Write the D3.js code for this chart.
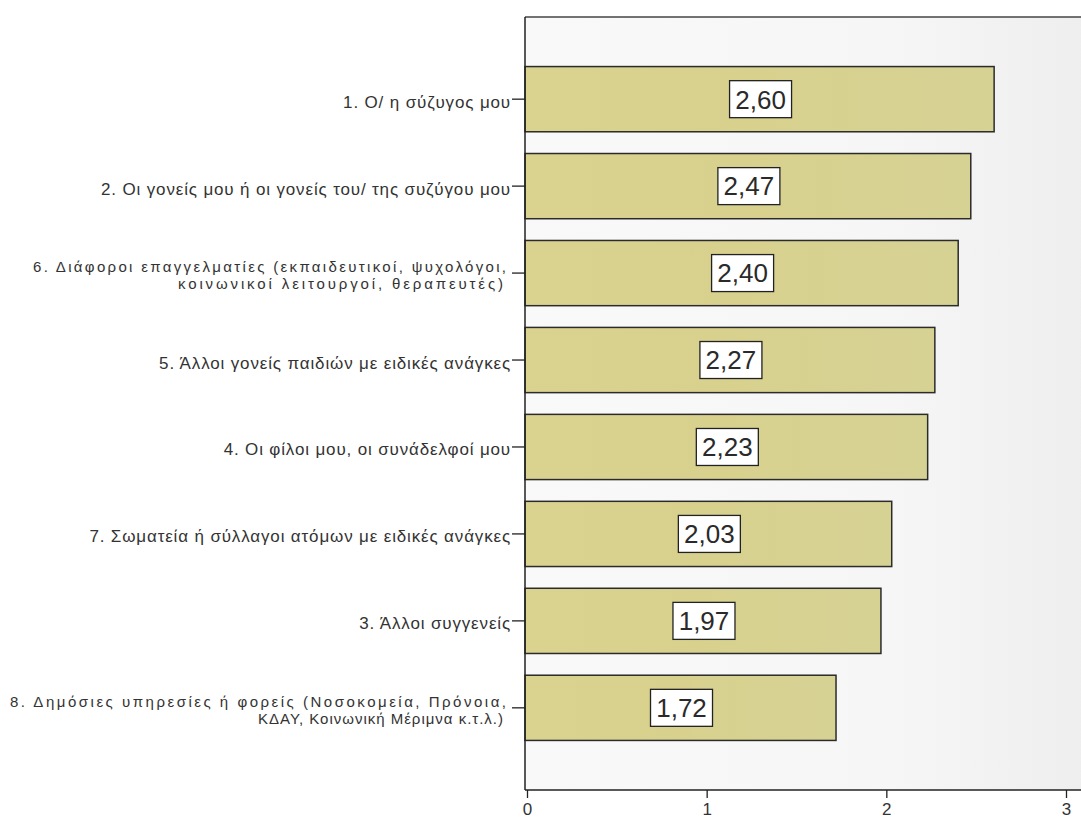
<!DOCTYPE html>
<html>
<head>
<meta charset="utf-8">
<script src="https://cdn.jsdelivr.net/npm/d3@7"></script>
<style>
  html, body { margin: 0; padding: 0; background: #ffffff; }
  svg { display: block; font-family: "Liberation Sans", Arial, sans-serif; }
</style>
</head>
<body>
<svg id="chart" width="1081" height="821"></svg>
<script>
// Mean scores per source of support (top to bottom)
const categories = [
  ["1. Ο/ η σύζυγος μου"],
  ["2. Οι γονείς μου ή οι γονείς του/ της συζύγου μου"],
  ["6. Διάφοροι επαγγελματίες (εκπαιδευτικοί, ψυχολόγοι,", "κοινωνικοί λειτουργοί, θεραπευτές)"],
  ["5. Άλλοι γονείς παιδιών με ειδικές ανάγκες"],
  ["4. Οι φίλοι μου, οι συνάδελφοί μου"],
  ["7. Σωματεία ή σύλλαγοι ατόμων με ειδικές ανάγκες"],
  ["3. Άλλοι συγγενείς"],
  ["8. Δημόσιες υπηρεσίες ή φορείς (Νοσοκομεία, Πρόνοια,", "ΚΔΑΥ, Κοινωνική Μέριμνα κ.τ.λ.)"]
];
const means = [2.60, 2.47, 2.40, 2.27, 2.23, 2.03, 1.97, 1.72];
const xTicks = [0, 1, 2, 3];

const svg = d3.select("#chart");
const W = 1081, H = 821;
const plot = { left: 525, top: 17, bottom: 790, right: 1090 };

const keys = categories.map((c, i) => i);
const x = d3.scaleLinear().domain([0, 3]).range([527, 1066]);
const y = d3.scaleBand().domain(keys).range([plot.top, plot.bottom])
  .paddingInner(0.25).paddingOuter(0.57);

const fmt = v => d3.format(".2f")(v).replace(".", ",");

// plot background
const defs = svg.append("defs");
const bg = defs.append("linearGradient").attr("id", "bg").attr("x1", 0).attr("x2", 1).attr("y1", 0).attr("y2", 0);
bg.append("stop").attr("offset", "0%").attr("stop-color", "#f9f9f9");
bg.append("stop").attr("offset", "65%").attr("stop-color", "#f6f6f6");
bg.append("stop").attr("offset", "100%").attr("stop-color", "#eeeeee");

const barGrad = defs.append("linearGradient").attr("id", "barfill").attr("x1", 0).attr("x2", 1).attr("y1", 0).attr("y2", 0);
barGrad.append("stop").attr("offset", "0%").attr("stop-color", "#dad28f");
barGrad.append("stop").attr("offset", "50%").attr("stop-color", "#d8d18e");
barGrad.append("stop").attr("offset", "100%").attr("stop-color", "#d6d294");

svg.append("rect")
  .attr("x", plot.left).attr("y", plot.top)
  .attr("width", plot.right - plot.left).attr("height", plot.bottom - plot.top)
  .attr("fill", "url(#bg)");

// bars
svg.append("g").selectAll("rect").data(means).join("rect")
  .attr("x", x(0) - 2)
  .attr("y", (d, i) => y(i))
  .attr("width", d => x(d) - x(0) + 2)
  .attr("height", y.bandwidth())
  .attr("fill", "url(#barfill)")
  .attr("stroke", "#2b2b2b")
  .attr("stroke-width", 1.5);

// value boxes
const vl = svg.append("g").selectAll("g").data(means).join("g")
  .attr("transform", (d, i) => `translate(${(x(0) + x(d)) / 2},${y(i) + y.bandwidth() / 2})`);
vl.append("rect")
  .attr("x", -31).attr("y", -18.5).attr("width", 62).attr("height", 37)
  .attr("fill", "#ffffff").attr("stroke", "#222").attr("stroke-width", 1.3);
vl.append("text")
  .attr("text-anchor", "middle").attr("dy", "0.36em")
  .attr("font-size", 26).attr("fill", "#2a2a2a")
  .text(d => fmt(d));

// frame: top line
svg.append("line")
  .attr("x1", plot.left).attr("x2", W).attr("y1", plot.top).attr("y2", plot.top)
  .attr("stroke", "#444").attr("stroke-width", 1.5);

// bottom axis
const xAxis = d3.axisBottom(x).tickValues(xTicks).tickFormat(d3.format("d")).tickSize(8).tickSizeOuter(0);
const gx = svg.append("g").attr("transform", `translate(0,${plot.bottom})`).call(xAxis);
gx.select(".domain").remove();
gx.selectAll(".tick line").attr("stroke", "#222").attr("stroke-width", 1.3);
gx.selectAll(".tick text").attr("font-size", 17).attr("fill", "#333")
  .attr("font-family", "'Liberation Sans', Arial, sans-serif").attr("y", 15).attr("dy", "0.6em");
svg.append("line")
  .attr("x1", plot.left).attr("x2", W).attr("y1", plot.bottom).attr("y2", plot.bottom)
  .attr("stroke", "#222").attr("stroke-width", 1.5);

// left axis with category labels
const yAxis = d3.axisLeft(y).tickSize(13).tickFormat("").tickSizeOuter(0);
const gy = svg.append("g").attr("transform", `translate(${plot.left},0)`).call(yAxis);
gy.select(".domain").remove();
gy.selectAll(".tick line").attr("stroke", "#222").attr("stroke-width", 1.3);
svg.append("line")
  .attr("x1", plot.left).attr("x2", plot.left).attr("y1", plot.top).attr("y2", plot.bottom)
  .attr("stroke", "#222").attr("stroke-width", 1.5);

// left edges of the wrapped (two-line) labels: [first line, second line]
const wrapLeft = { 2: [33, 178], 7: [10, 258] };
const labels = svg.append("g").attr("font-size", 17).attr("fill", "#333");
categories.forEach((lines, i) => {
  const cy = y(i) + y.bandwidth() / 2;
  const xr = plot.left - 14;
  if (lines.length === 1) {
    labels.append("text").attr("x", xr).attr("y", cy).attr("dy", "0.5em")
      .attr("letter-spacing", 0.85)
      .attr("text-anchor", "end").text(lines[0]);
  } else {
    const x1 = xr - 5, x2 = xr - 8;
    labels.append("text").attr("x", x1).attr("y", cy - 1)
      .attr("font-size", 15).attr("text-anchor", "end")
      .attr("textLength", x1 - wrapLeft[i][0]).attr("lengthAdjust", "spacing")
      .text(lines[0]);
    labels.append("text").attr("x", x2).attr("y", cy + 16)
      .attr("font-size", 15).attr("text-anchor", "end")
      .attr("textLength", x2 - wrapLeft[i][1]).attr("lengthAdjust", "spacing")
      .text(lines[1]);
  }
});
</script>
</body>
</html>
